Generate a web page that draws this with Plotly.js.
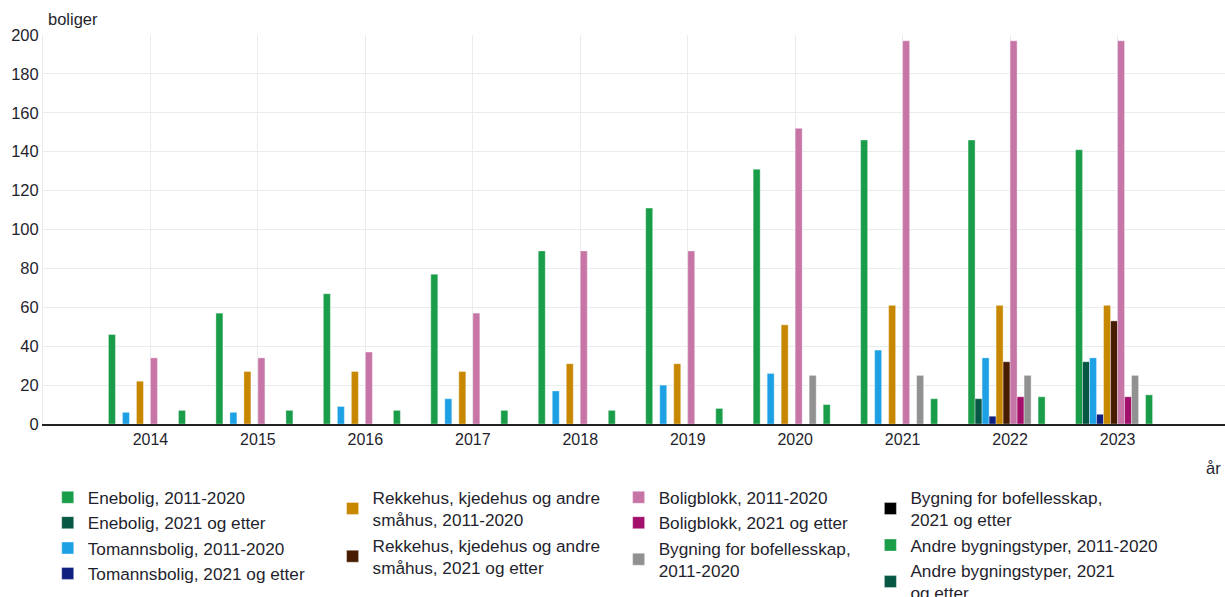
<!DOCTYPE html>
<html>
<head>
<meta charset="utf-8">
<script src="https://cdn.plot.ly/plotly-3.0.1.min.js"></script>
<style>
  html, body { margin: 0; padding: 0; background: #fff; }
  #chart { width: 1225px; height: 597px; }
</style>
</head>
<body>
<div id="chart"></div>
<script>
// Categories (years)
const years = ['2014','2015','2016','2017','2018','2019','2020','2021','2022','2023'];

// Series values (boliger)
const eneboligOld      = [46, 57, 67, 77, 89, 111, 131, 146, 146, 141];
const eneboligNew      = [null, null, null, null, null, null, null, null, 13, 32];
const tomannsOld       = [6, 6, 9, 13, 17, 20, 26, 38, 34, 34];
const tomannsNew       = [null, null, null, null, null, null, null, null, 4, 5];
const rekkehusOld      = [22, 27, 27, 27, 31, 31, 51, 61, 61, 61];
const rekkehusNew      = [null, null, null, null, null, null, null, null, 32, 53];
const boligblokkOld    = [34, 34, 37, 57, 89, 89, 152, 197, 197, 197];
const boligblokkNew    = [null, null, null, null, null, null, null, null, 14, 14];
const bofellesOld      = [null, null, null, null, null, null, 25, 25, 25, 25];
const bofellesNew      = [null, null, null, null, null, null, null, null, null, null];
const andreOld         = [7, 7, 7, 7, 7, 8, 10, 13, 14, 15];
const andreNew         = [null, null, null, null, null, null, null, null, null, null];

// Series names (legend labels)
const names = [
  'Enebolig, 2011-2020',
  'Enebolig, 2021 og etter',
  'Tomannsbolig, 2011-2020',
  'Tomannsbolig, 2021 og etter',
  'Rekkehus, kjedehus og andre<br>småhus, 2011-2020',
  'Rekkehus, kjedehus og andre<br>småhus, 2021 og etter',
  'Boligblokk, 2011-2020',
  'Boligblokk, 2021 og etter',
  'Bygning for bofellesskap,<br>2011-2020',
  'Bygning for bofellesskap,<br>2021 og etter',
  'Andre bygningstyper, 2011-2020',
  'Andre bygningstyper, 2021<br>og etter'
];
const seriesValues = [eneboligOld, eneboligNew, tomannsOld, tomannsNew, rekkehusOld, rekkehusNew,
                      boligblokkOld, boligblokkNew, bofellesOld, bofellesNew, andreOld, andreNew];

// Styling
const colors = ['#1a9d49', '#075745', '#1ea1e4', '#0f2080', '#c78800', '#471c01',
                '#c775a7', '#a3106b', '#919191', '#000000', '#1a9d49', '#075745'];
const legendIds = ['legend','legend','legend','legend','legend2','legend2',
                   'legend3','legend3','legend3','legend4','legend4','legend4'];

const traces = seriesValues.map((vals, i) => ({
  type: 'bar',
  name: names[i],
  x: years,
  y: vals,
  legend: legendIds[i],
  marker: { color: colors[i], line: { color: 'rgba(255,255,255,0.6)', width: 0.6 } },
  hoverinfo: 'x+y+name'
}));

const font = { family: 'Liberation Sans, Arial, sans-serif', color: '#1f1f2e' };
const legendBase = {
  orientation: 'v', yanchor: 'top', xanchor: 'left', y: -0.143,
  bgcolor: 'rgba(0,0,0,0)', borderwidth: 0,
  font: { family: font.family, size: 17.2, color: '#1f1f2e' },
  traceorder: 'normal', itemclick: false
};

const layout = {
  width: 1225, height: 597,
  margin: { l: 43, r: 0, t: 35, b: 173, autoexpand: false },
  paper_bgcolor: '#ffffff', plot_bgcolor: '#ffffff',
  font: font,
  barmode: 'group', bargap: 0.218, bargroupgap: 0,
  xaxis: {
    type: 'category', range: [-1, 10], automargin: false,
    showgrid: true, gridcolor: '#e8eced', gridwidth: 1,
    showline: true, linecolor: '#222222', linewidth: 1.6,
    ticks: '', tickfont: { size: 16, color: '#1f1f2e' },
    zeroline: false, fixedrange: true
  },
  yaxis: {
    range: [0, 200], dtick: 20, tick0: 0, automargin: false,
    showgrid: true, gridcolor: '#e8eced', gridwidth: 1,
    showline: true, linecolor: '#e8eced', linewidth: 1,
    ticks: '', tickfont: { size: 16.5, color: '#1f1f2e' },
    zeroline: false, fixedrange: true
  },
  showlegend: true,
  legend:  Object.assign({}, legendBase, { x: 0.004 }),
  legend2: Object.assign({}, legendBase, { x: 0.245 }),
  legend3: Object.assign({}, legendBase, { x: 0.487 }),
  legend4: Object.assign({}, legendBase, { x: 0.700 }),
  annotations: [
    { text: 'boliger', xref: 'paper', yref: 'paper', x: 0.0025, y: 1.04,
      xanchor: 'left', yanchor: 'middle', showarrow: false,
      font: { size: 16.5, color: '#1f1f2e' } },
    { text: 'år', xref: 'paper', yref: 'paper', x: 0.998, y: -0.113,
      xanchor: 'right', yanchor: 'middle', showarrow: false,
      font: { size: 16.5, color: '#1f1f2e' } }
  ]
};

Plotly.newPlot('chart', traces, layout, { displayModeBar: false, staticPlot: false });
</script>
</body>
</html>
